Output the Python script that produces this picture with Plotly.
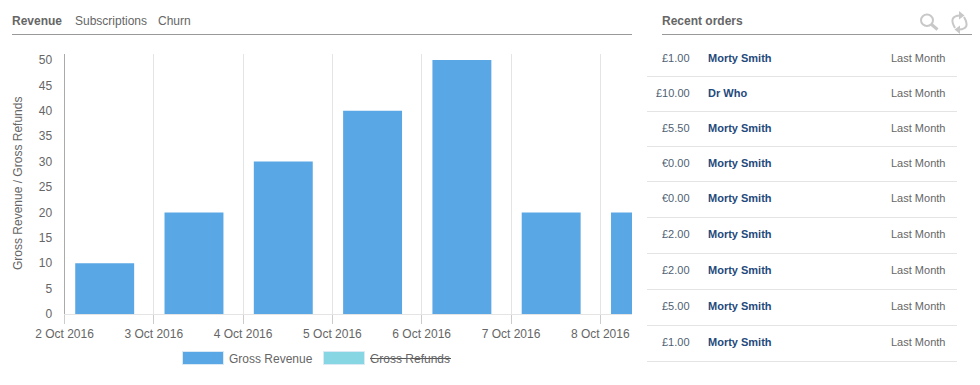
import plotly.graph_objects as go

W, H = 980, 385

# ---- data ----
date_labels = ["2 Oct 2016", "3 Oct 2016", "4 Oct 2016", "5 Oct 2016", "6 Oct 2016", "7 Oct 2016", "8 Oct 2016"]
day_index = [0, 1, 2, 3, 4, 5, 6]
gross_revenue = [10, 20, 30, 40, 50, 20, 20]
gross_refunds = [0, 0, 0, 0, 0, 0, 0]
y_ticks = [0, 5, 10, 15, 20, 25, 30, 35, 40, 45, 50]
tabs = ["Revenue", "Subscriptions", "Churn"]
order_amounts = ["£1.00", "£10.00", "£5.50", "€0.00", "€0.00", "£2.00", "£2.00", "£5.00", "£1.00"]
order_names = ["Morty Smith", "Dr Who", "Morty Smith", "Morty Smith", "Morty Smith", "Morty Smith", "Morty Smith", "Morty Smith", "Morty Smith"]
order_dates = ["Last Month"] * 9

# ---- layout constants ----
FONT = "Liberation Sans, Arial, sans-serif"
GREY = "#666666"
NAVY = "#1f4a7c"
BLUE = "#5aa7e5"
CYAN = "#86d6e3"
ICON = "#c8c8c8"
PX_L, PX_R, PX_T, PX_B = 64.5, 632, 54, 314
DAY_PX = 89.3
BAR_OFFSET = 0.45


def fx(x):
    return x / W


def fy(y):
    return 1 - y / H


fig = go.Figure()
fig.add_bar(
    x=[d + BAR_OFFSET for d in day_index], y=gross_revenue, width=0.66,
    name="Gross Revenue", marker=dict(color=BLUE, line=dict(width=0)), showlegend=False,
)
fig.add_bar(
    x=[d + BAR_OFFSET for d in day_index], y=gross_refunds, width=0.66,
    name="Gross Refunds", marker=dict(color=CYAN), visible="legendonly", showlegend=False,
)

annotations = []
shapes = []


def text(x, y, s, anchor="left", color=GREY, size=12, bold=False, angle=0):
    annotations.append(dict(
        x=fx(x), y=fy(y), xref="paper", yref="paper", xanchor=anchor, yanchor="middle",
        text=f"<b>{s}</b>" if bold else s, showarrow=False, textangle=angle,
        font=dict(family=FONT, size=size, color=color), borderpad=0, borderwidth=0,
    ))


def hline(x0, x1, y, color, width=1):
    shapes.append(dict(type="line", xref="paper", yref="paper", x0=fx(x0), x1=fx(x1), y0=fy(y), y1=fy(y),
                       line=dict(color=color, width=width)))


def box(x0, x1, y0, y1, fill, line):
    shapes.append(dict(type="rect", xref="paper", yref="paper", x0=fx(x0), x1=fx(x1), y0=fy(y0), y1=fy(y1),
                       fillcolor=fill, line=dict(color=line, width=1)))


def curve(p0, c, p1, width=2):
    path = f"M{fx(p0[0])},{fy(p0[1])} Q{fx(c[0])},{fy(c[1])} {fx(p1[0])},{fy(p1[1])}"
    shapes.append(dict(type="path", xref="paper", yref="paper", path=path, line=dict(color=ICON, width=width)))


def triangle(a, b, c):
    path = f"M{fx(a[0])},{fy(a[1])} L{fx(b[0])},{fy(b[1])} L{fx(c[0])},{fy(c[1])} Z"
    shapes.append(dict(type="path", xref="paper", yref="paper", path=path, fillcolor=ICON,
                       line=dict(color=ICON, width=0)))


# header tabs
for label, x, b in zip(tabs, [12, 75, 158], [True, False, False]):
    text(x, 21.5, label, bold=b)
hline(12, 632, 34.5, "#999999")
text(662, 21.5, "Recent orders", bold=True)
hline(662, 972, 34.5, "#999999")

# search icon
shapes.append(dict(type="circle", xref="paper", yref="paper", x0=fx(921), x1=fx(933), y0=fy(14.5), y1=fy(26),
                   line=dict(color=ICON, width=2)))
shapes.append(dict(type="line", xref="paper", yref="paper", x0=fx(931.5), x1=fx(937.5), y0=fy(24.5), y1=fy(29.5),
                   line=dict(color=ICON, width=3)))
# refresh icon
curve((955, 28), (948, 16), (960, 15.5))
triangle((959, 11), (964.5, 15.5), (959, 19.5))
curve((964, 17), (971, 29), (959, 29.5))
triangle((960, 25.5), (954.5, 29.5), (960, 34))

# order rows
row_y = [58, 93, 128, 163, 198, 234, 270, 306, 342]
rule_y = [76.5, 111.5, 146.5, 181.5, 217.5, 253.5, 289.5, 325.5, 361.5]
for ry, ly, amount, name, when in zip(row_y, rule_y, order_amounts, order_names, order_dates):
    text(690, ry, amount, anchor="right", color="#4f5f73", size=11)
    text(708, ry, name, color=NAVY, size=11, bold=True)
    text(945, ry, when, anchor="right", size=11)
    hline(647, 957, ly, "#e4e4e4")

# legend
box(182.5, 223.5, 351.5, 364.5, BLUE, "#dbe9f5")
text(229, 358.5, "Gross Revenue")
box(323.5, 364.5, 351.5, 364.5, CYAN, "#dbe9f5")
text(370, 358.5, "Gross Refunds")
hline(370, 451, 358.5, "#555555")

text(18, 184, "Gross Revenue / Gross Refunds", anchor="center", angle=-90)

fig.update_layout(
    width=W, height=H, margin=dict(l=0, r=0, t=0, b=0, pad=0),
    paper_bgcolor="white", plot_bgcolor="white", barmode="overlay",
    showlegend=False, annotations=annotations, shapes=shapes,
    font=dict(family=FONT, size=12, color=GREY),
    xaxis=dict(
        automargin=False,
        domain=[fx(PX_L), fx(PX_R)], range=[0, (PX_R - PX_L) / DAY_PX],
        tickvals=day_index, ticktext=date_labels, ticks="outside", ticklen=9, tickcolor="#cccccc",
        showgrid=True, gridcolor="#e4e4e4", gridwidth=1, zeroline=False,
        showline=True, linecolor="#e4e4e4", linewidth=1, tickfont=dict(size=12, color=GREY),
    ),
    yaxis=dict(
        automargin=False,
        domain=[fy(PX_B), fy(PX_T)], range=[0, (PX_B - PX_T) / 5.08],
        tickvals=y_ticks, ticks="", showgrid=False, zeroline=False,
        showline=True, linecolor="#aaaaaa", linewidth=1, ticklabelstandoff=9,
        tickfont=dict(size=12, color=GREY),
    ),
)

fig.write_html("out.html", config=dict(displayModeBar=False),
               post_script="document.body.style.margin='0';document.body.style.overflow='hidden';")
